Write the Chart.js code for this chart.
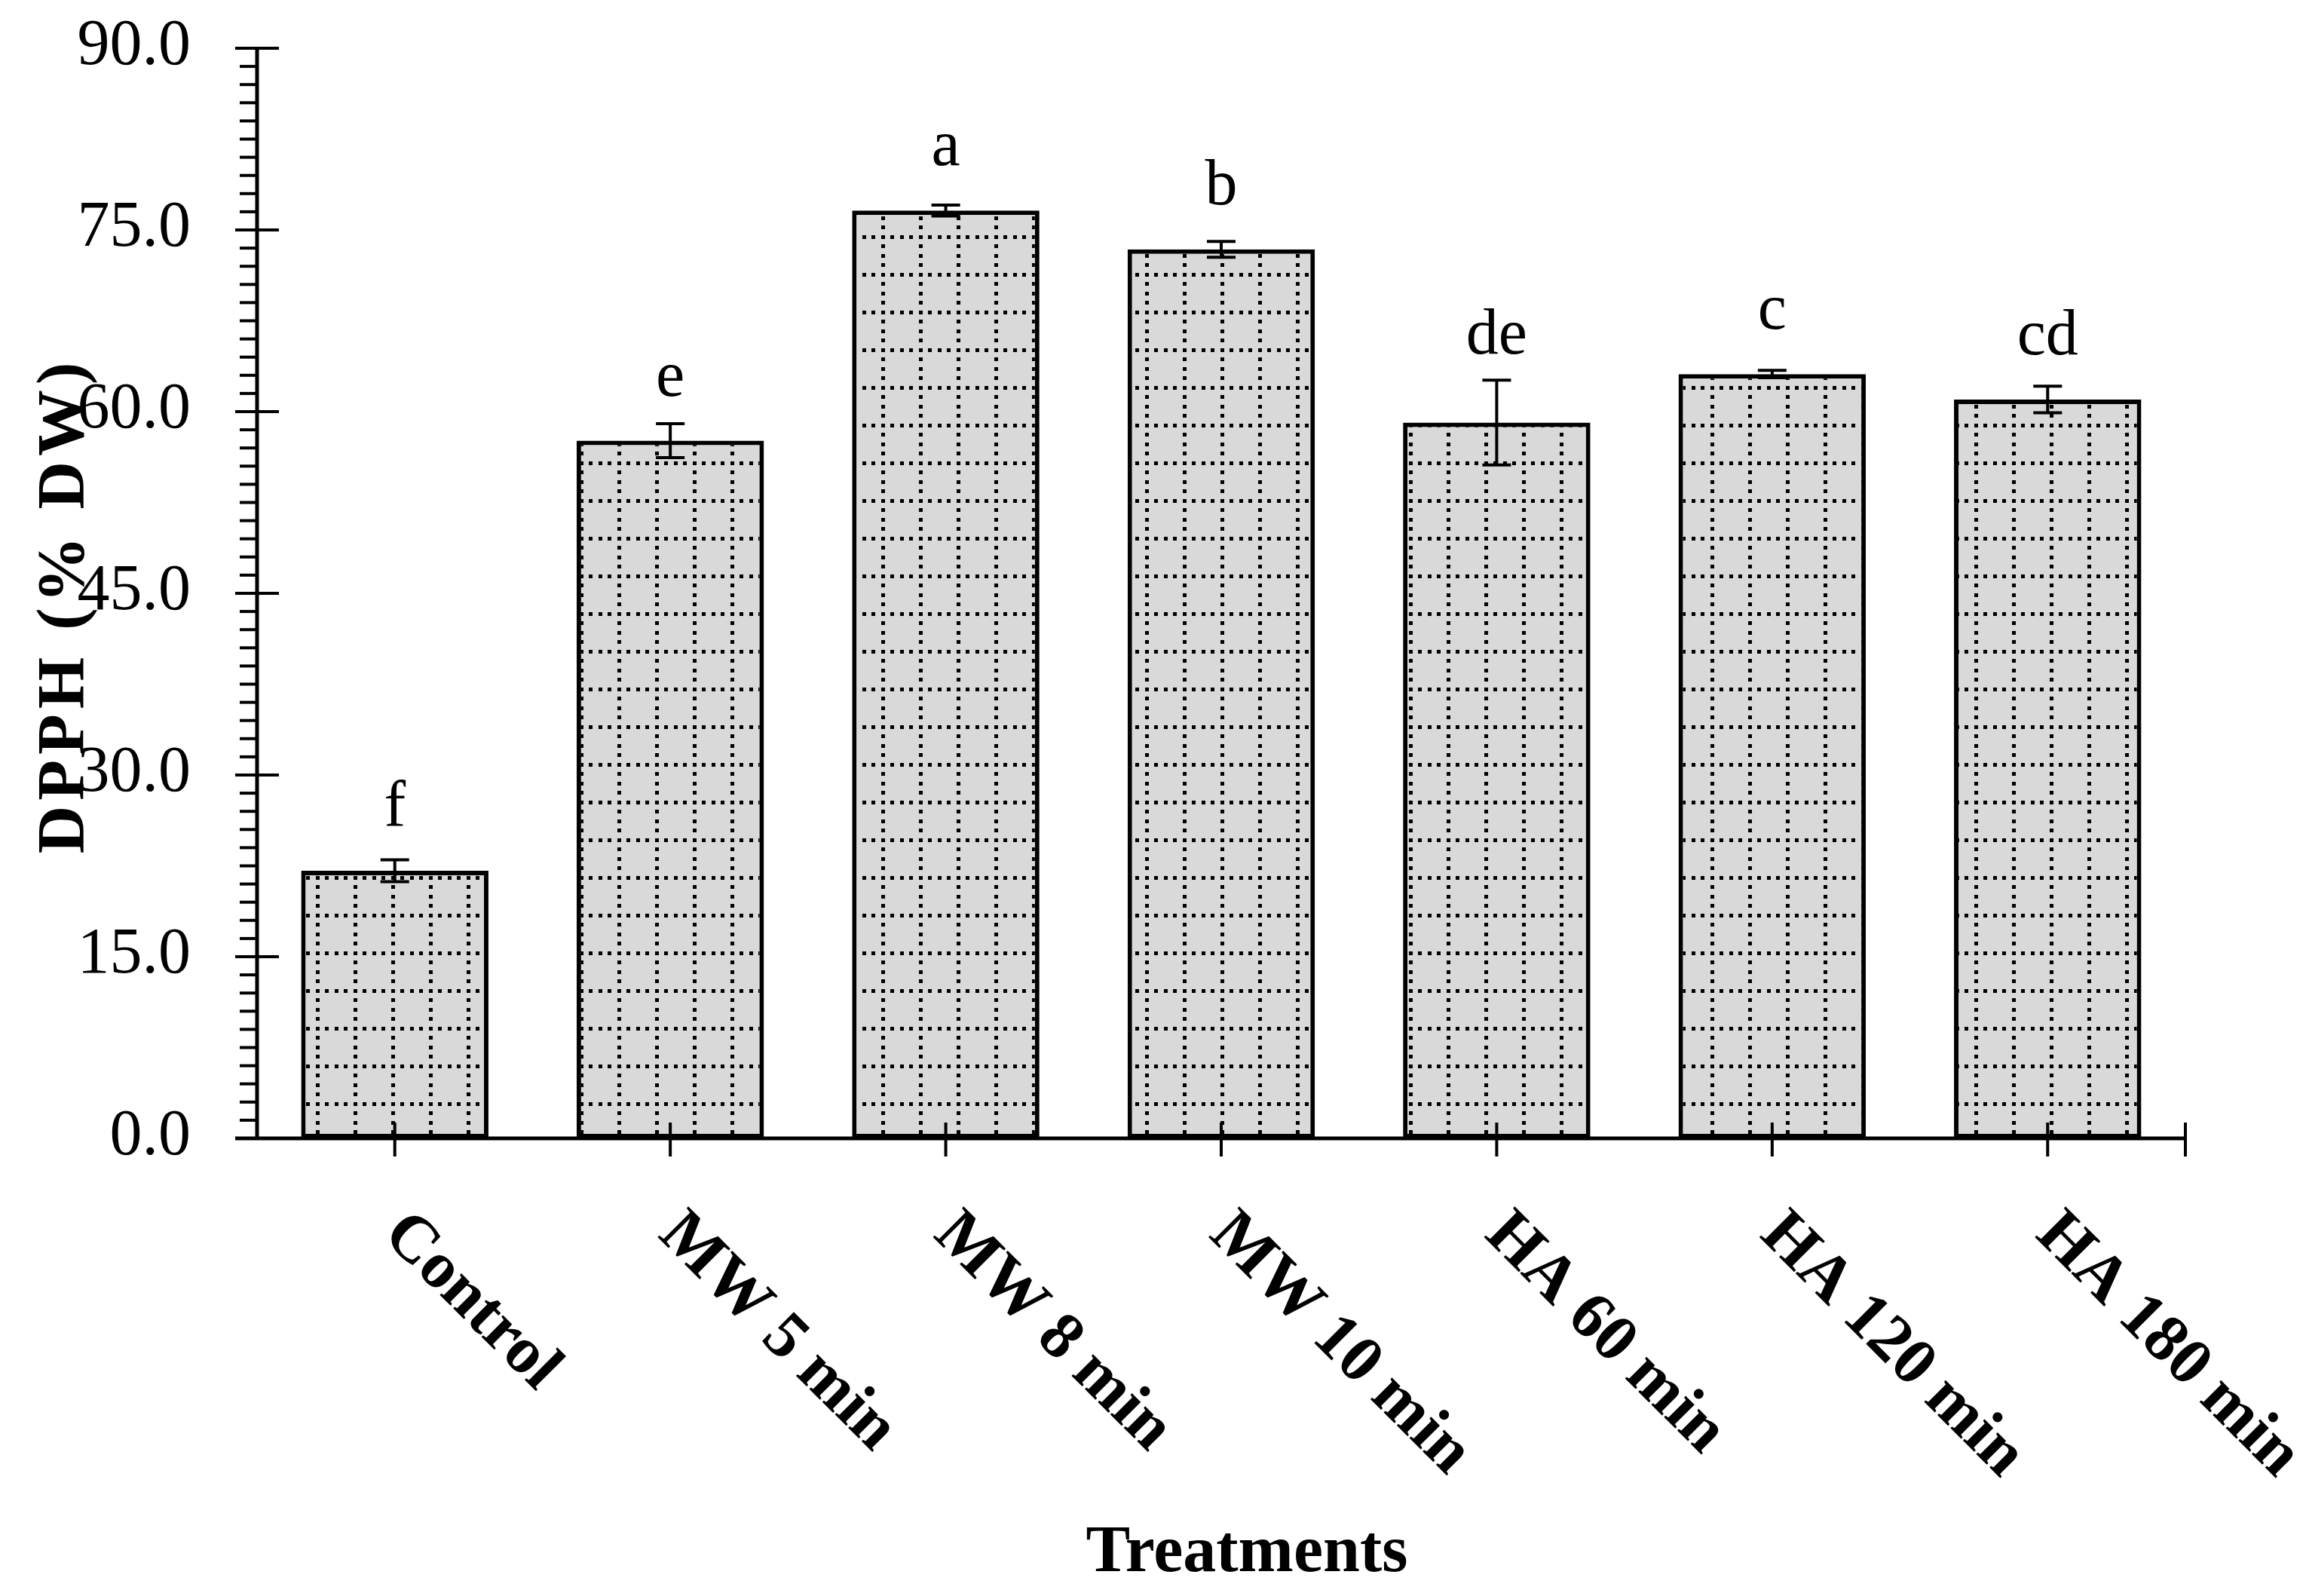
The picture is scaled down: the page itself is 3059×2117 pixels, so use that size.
<!DOCTYPE html>
<html>
<head>
<meta charset="utf-8">
<script src="https://cdn.jsdelivr.net/npm/chart.js@4.4.1/dist/chart.umd.min.js"></script>
<style>
  html, body { margin: 0; padding: 0; background: #ffffff; }
  #wrap { width: 3059px; height: 2117px; position: relative; }
  canvas { display: block; }
</style>
</head>
<body>
<div id="wrap"><canvas id="c" width="3059" height="2117"></canvas></div>
<script>
// ---- data ----
const categories = ['Control', 'MW 5 min', 'MW 8 min', 'MW 10 min', 'HA 60 min', 'HA 120 min', 'HA 180 min'];
const dpph = [22.1, 57.6, 76.6, 73.4, 59.1, 63.1, 61.0];
const dpphErr = [0.9, 1.4, 0.45, 0.65, 3.5, 0.3, 1.1];
const letters = ['f', 'e', 'a', 'b', 'de', 'c', 'cd'];
const yMin = 0, yMax = 90, yStep = 15, yMinorStep = 1.5;
const xTitle = 'Treatments';
const yTitle = 'DPPH (% DW)';

// ---- fill pattern (light grey with dotted grid) ----
function makePattern() {
  const pc = document.createElement('canvas');
  pc.width = 50; pc.height = 50;
  const g = pc.getContext('2d');
  g.fillStyle = '#d9d9d9';
  g.fillRect(0, 0, 50, 50);
  g.fillStyle = '#000000';
  const dot = (cx, cy) => {
    for (const dx of [-50, 0, 50]) for (const dy of [-50, 0, 50]) g.fillRect(cx - 2 + dx, cy - 2 + dy, 5, 5);
  };
  [8, 21, 33, 46].forEach(cx => dot(cx, 14));
  [1, 26, 39].forEach(cy => dot(21, cy));
  return g.createPattern(pc, 'repeat');
}
const pattern = makePattern();

const SERIF = '"Liberation Serif", "Times New Roman", serif';

function line(ctx, x1, y1, x2, y2) {
  ctx.beginPath(); ctx.moveTo(x1, y1); ctx.lineTo(x2, y2); ctx.stroke();
}

const decor = {
  id: 'decor',
  afterDatasetsDraw(chart) {
    const ctx = chart.ctx, xs = chart.scales.x, ys = chart.scales.y;
    ctx.save();
    ctx.strokeStyle = '#000'; ctx.fillStyle = '#000';
    ctx.lineCap = 'butt';

    // error bars
    ctx.lineWidth = 4;
    dpph.forEach((v, i) => {
      const cx = xs.getPixelForValue(i);
      const t = ys.getPixelForValue(v + dpphErr[i]);
      const b = ys.getPixelForValue(v - dpphErr[i]);
      line(ctx, cx, t, cx, b);
      line(ctx, cx - 19, t, cx + 19, t);
      line(ctx, cx - 19, b, cx + 19, b);
    });

    // axes lines
    const left = xs.left, bottom = ys.bottom;
    ctx.lineWidth = 5;
    line(ctx, left - 29, bottom, xs.right, bottom);
    line(ctx, left, ys.top - 2, left, bottom);

    // y ticks
    ctx.lineWidth = 4;
    const nMinor = Math.round((yMax - yMin) / yMinorStep);
    const per = Math.round(yStep / yMinorStep);
    for (let k = 0; k <= nMinor; k++) {
      const py = ys.getPixelForValue(yMin + k * yMinorStep);
      if (k % per === 0) line(ctx, left - 29, py, left + 29, py);
      else line(ctx, left - 23, py, left, py);
    }

    // y tick labels
    ctx.font = '86px ' + SERIF;
    ctx.textAlign = 'right';
    ctx.textBaseline = 'middle';
    ys.ticks.forEach(t => {
      ctx.fillText(Number(t.value).toFixed(1), left - 88, ys.getPixelForValue(t.value) - 2);
    });

    // x ticks (category centers + right end)
    categories.forEach((c, i) => {
      const px = xs.getPixelForValue(i);
      line(ctx, px, bottom - 21, px, bottom + 24);
    });
    line(ctx, xs.right, bottom - 21, xs.right, bottom + 24);

    // significance letters
    ctx.textAlign = 'center';
    ctx.textBaseline = 'alphabetic';
    dpph.forEach((v, i) => {
      const cx = xs.getPixelForValue(i);
      const yy = Math.min(ys.getPixelForValue(v) - 60, ys.getPixelForValue(v + dpphErr[i]) - 35);
      ctx.fillText(letters[i], cx, yy);
    });

    // rotated category labels
    ctx.font = 'bold 88px ' + SERIF;
    ctx.textAlign = 'left';
    categories.forEach((c, i) => {
      const px = xs.getPixelForValue(i);
      ctx.save();
      ctx.translate(px - 18, bottom + 130);
      ctx.rotate(Math.PI / 4);
      ctx.fillText(c, 0, 0);
      ctx.restore();
    });

    // x title
    ctx.textAlign = 'center';
    ctx.fillText(xTitle, (xs.left + xs.right) / 2 + 34, bottom + 574);

    // y title
    ctx.save();
    ctx.translate(110, (ys.top + ys.bottom) / 2 + 16);
    ctx.rotate(-Math.PI / 2);
    try { ctx.letterSpacing = '7px'; } catch (e) {}
    ctx.fillText(yTitle, 0, 0);
    ctx.restore();

    ctx.restore();
  }
};

new Chart(document.getElementById('c'), {
  type: 'bar',
  data: {
    labels: categories,
    datasets: [{
      data: dpph,
      backgroundColor: pattern,
      borderColor: '#000000',
      borderWidth: 6,
      borderSkipped: false,
      barPercentage: 0.68,
      categoryPercentage: 1.0
    }]
  },
  options: {
    responsive: false,
    devicePixelRatio: 1,
    animation: false,
    layout: { padding: { top: 64, right: 160, bottom: 0, left: 0 } },
    plugins: { legend: { display: false }, tooltip: { enabled: false } },
    scales: {
      x: {
        grid: { display: false, drawTicks: false },
        border: { display: false },
        ticks: { display: false },
        afterFit: s => { s.height = 607; }
      },
      y: {
        min: yMin, max: yMax,
        grid: { display: false, drawTicks: false },
        border: { display: false },
        ticks: { display: false, stepSize: yStep },
        afterFit: s => { s.width = 341; }
      }
    }
  },
  plugins: [decor]
});
</script>
</body>
</html>
